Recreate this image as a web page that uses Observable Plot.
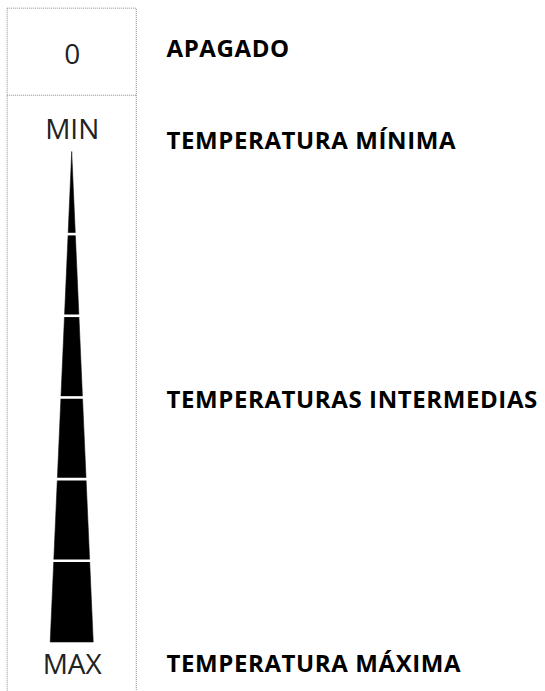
<!DOCTYPE html>
<html>
<head>
<meta charset="utf-8">
<script src="https://cdn.jsdelivr.net/npm/d3@7"></script>
<script src="https://cdn.jsdelivr.net/npm/@observablehq/plot@0.6"></script>
<style>
  html, body { margin: 0; padding: 0; background: #fff; }
  #chart svg { display: block; }
</style>
</head>
<body>
<div id="chart"></div>
<script>
// Dial levels: 0 = tip (minimum), 6 = base (maximum)
const wedgeLevels = [0, 1, 2, 3, 4, 5, 6];
const separatorLevels = [1, 2, 3, 4, 5];
// Labels on the dial (position on the dial, in level units)
const dialTexts = ["0", "MIN", "MAX"];
const dialTextLevels = [-1.19, -0.27, 6.27];
// Descriptions to the right
const descTexts = ["APAGADO", "TEMPERATURA MÍNIMA", "TEMPERATURAS INTERMEDIAS", "TEMPERATURA MÁXIMA"];
const descLevels = [-1.26, -0.13, 3.04, 6.27];
// Dial frame (level units)
const frameTop = -1.76, frameDivider = -0.70, frameBottom = 7;

const wedge = wedgeLevels.map(l => ({level: l, half: l}));
const dialData = dialTexts.map((t, i) => ({text: t, level: dialTextLevels[i]}));
const descData = descTexts.map((t, i) => ({text: t, level: descLevels[i]}));
const halfBox = 18, descX = 26.3;

const chart = Plot.plot({
  width: 545,
  height: 691,
  margin: 0,
  x: {domain: [-20, 132], range: [0, 545], axis: null},
  y: {domain: [-1.86, 6.6], range: [0, 691], axis: null},
  marks: [
    Plot.rect([{}], {x1: -halfBox, x2: halfBox, y1: frameTop, y2: frameBottom,
      fill: "none", stroke: "#8a8a8a", strokeWidth: 1, strokeDasharray: "1,1"}),
    Plot.ruleY([frameDivider], {x1: -halfBox, x2: halfBox, stroke: "#8a8a8a", strokeWidth: 1, strokeDasharray: "1,1"}),
    Plot.areaX(wedge, {y: "level", x1: d => -d.half, x2: d => d.half, fill: "#000", stroke: "#111", strokeWidth: 0.6}),
    Plot.ruleY(separatorLevels, {x1: d => -d - 1, x2: d => d + 1, stroke: "#fff", strokeWidth: 2.6}),
    Plot.text(dialData, {x: 0, y: "level", text: "text", fontSize: 28, fill: "#222",
      fontFamily: "Open Sans", fontWeight: 400}),
    Plot.text(descData, {x: descX, y: "level", text: "text", textAnchor: "start", fontSize: 24,
      fill: "#000", fontFamily: "Open Sans", fontWeight: 700})
  ]
});
const textGroups = chart.querySelectorAll('g[aria-label="text"]');
if (textGroups.length) textGroups[textGroups.length - 1].style.letterSpacing = "0.6px";
document.getElementById("chart").appendChild(chart);
</script>
</body>
</html>
